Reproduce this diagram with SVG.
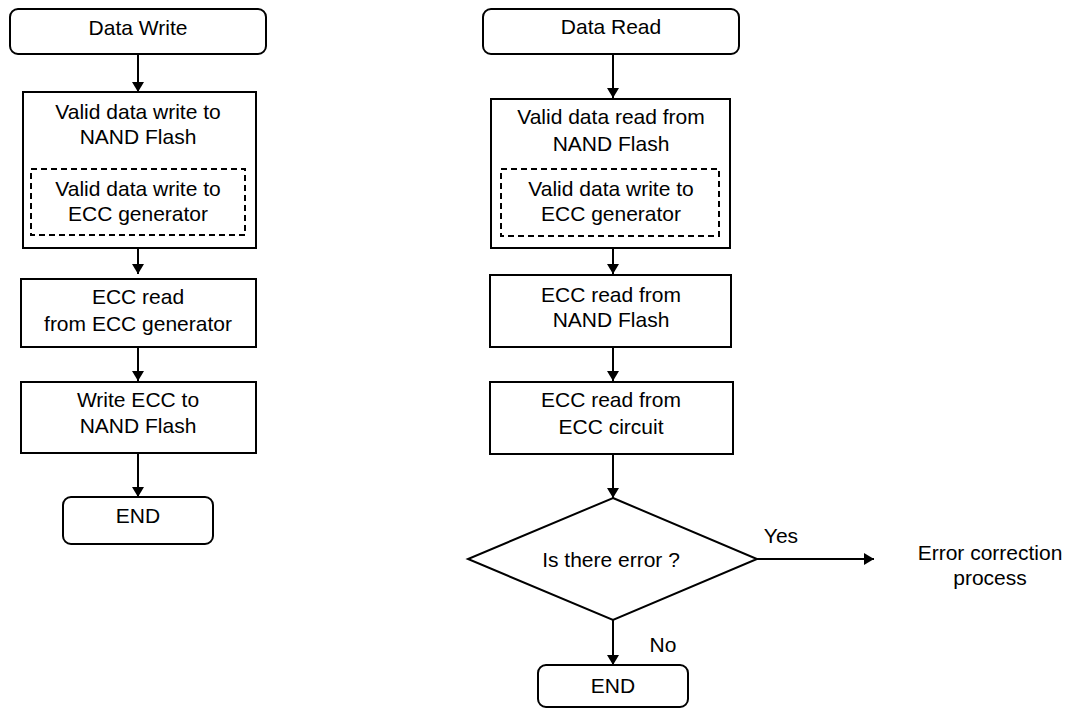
<svg xmlns="http://www.w3.org/2000/svg" width="1074" height="709" viewBox="0 0 1074 709">
<defs>
<marker id="ah" markerWidth="10" markerHeight="12" refX="10" refY="6" orient="auto" markerUnits="userSpaceOnUse">
<path d="M0,0 L10,6 L0,12 Z" fill="#000"/>
</marker>
<style>
.b{fill:#fff;stroke:#000;stroke-width:2}
.d{fill:none;stroke:#000;stroke-width:2;stroke-dasharray:6,4}
.t{font-family:"Liberation Sans",Arial,sans-serif;font-size:21px;fill:#000;text-anchor:middle}
.c{stroke:#000;stroke-width:2;fill:none;marker-end:url(#ah)}
</style>
</defs>
<rect width="1074" height="709" fill="#fff"/>
<g id="connectors">
<line class="c" x1="138" y1="54" x2="138" y2="92"/>
<line class="c" x1="138" y1="248" x2="138" y2="274"/>
<line class="c" x1="138" y1="347" x2="138" y2="381"/>
<line class="c" x1="138" y1="453" x2="138" y2="497"/>
<line class="c" x1="613" y1="54" x2="613" y2="98"/>
<line class="c" x1="613" y1="248" x2="613" y2="274"/>
<line class="c" x1="613" y1="347" x2="613" y2="381"/>
<line class="c" x1="613" y1="454" x2="613" y2="498"/>
<line class="c" x1="757" y1="559" x2="874" y2="559"/>
<line class="c" x1="613" y1="620" x2="613" y2="665"/>
</g>
<g id="data-write">
<rect class="b" x="10" y="9" width="256" height="45" rx="8"/>
<text class="t" x="138" y="35">Data Write</text>
</g>
<g id="write-nand">
<rect class="b" x="23" y="92" width="233" height="156"/>
<text class="t" x="138" y="119">Valid data write to</text>
<text class="t" x="138" y="144">NAND Flash</text>
</g>
<g id="write-ecc-gen">
<rect class="d" x="31" y="169" width="214" height="66"/>
<text class="t" x="138" y="196">Valid data write to</text>
<text class="t" x="138" y="221">ECC generator</text>
</g>
<g id="ecc-read-gen">
<rect class="b" x="21" y="279" width="235" height="68"/>
<text class="t" x="138" y="304">ECC read</text>
<text class="t" x="138" y="331">from ECC generator</text>
</g>
<g id="write-ecc-nand">
<rect class="b" x="21" y="382" width="235" height="71"/>
<text class="t" x="138" y="407">Write ECC to</text>
<text class="t" x="138" y="433">NAND Flash</text>
</g>
<g id="end-write">
<rect class="b" x="63" y="497" width="150" height="47" rx="8"/>
<text class="t" x="138" y="523">END</text>
</g>
<g id="data-read">
<rect class="b" x="483" y="9" width="256" height="45" rx="8"/>
<text class="t" x="611" y="34">Data Read</text>
</g>
<g id="read-nand">
<rect class="b" x="491" y="99" width="239" height="149"/>
<text class="t" x="611" y="124">Valid data read from</text>
<text class="t" x="611" y="151">NAND Flash</text>
</g>
<g id="read-ecc-gen">
<rect class="d" x="501" y="169" width="218" height="67"/>
<text class="t" x="611" y="196">Valid data write to</text>
<text class="t" x="611" y="221">ECC generator</text>
</g>
<g id="ecc-read-nand">
<rect class="b" x="490" y="275" width="241" height="72"/>
<text class="t" x="611" y="302">ECC read from</text>
<text class="t" x="611" y="327">NAND Flash</text>
</g>
<g id="ecc-read-circuit">
<rect class="b" x="490" y="382" width="243" height="72"/>
<text class="t" x="611" y="407">ECC read from</text>
<text class="t" x="611" y="434">ECC circuit</text>
</g>
<g id="decision">
<polygon class="b" points="613,498 757,559 613,620 468,559"/>
<text class="t" x="611" y="567">Is there error ?</text>
</g>
<g id="labels">
<text class="t" x="781" y="543">Yes</text>
<text class="t" x="663" y="652">No</text>
</g>
<g id="error-correction">
<text class="t" x="990" y="560">Error correction</text>
<text class="t" x="990" y="585">process</text>
</g>
<g id="end-read">
<rect class="b" x="538" y="665" width="150" height="42" rx="8"/>
<text class="t" x="613" y="693">END</text>
</g>
</svg>
